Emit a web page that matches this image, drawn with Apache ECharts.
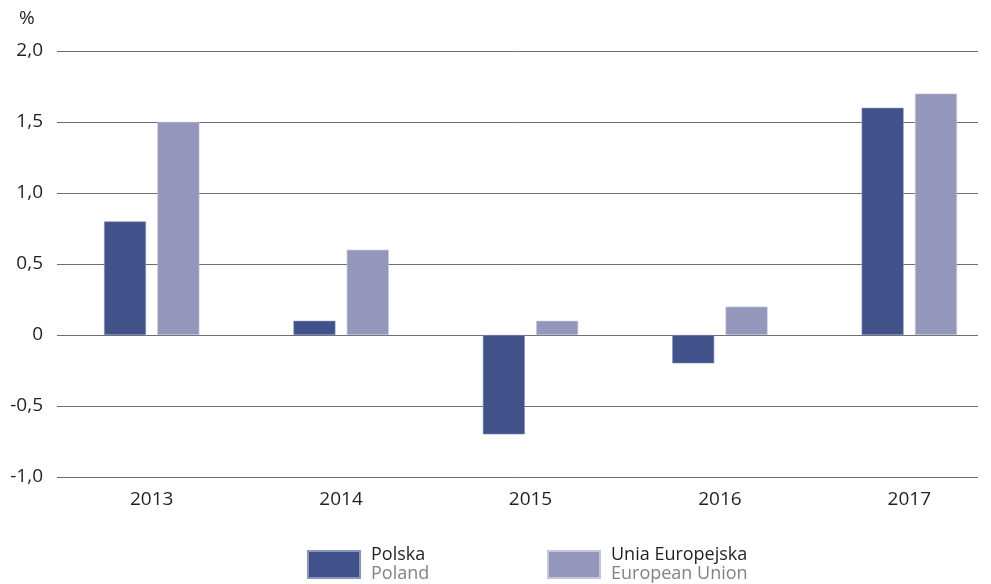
<!DOCTYPE html>
<html>
<head>
<meta charset="utf-8">
<script src="https://cdn.jsdelivr.net/npm/echarts@6/dist/echarts.min.js"></script>
<style>
  html, body { margin: 0; padding: 0; background: #fff; overflow: hidden; }
  #chart { width: 1010px; height: 584px; }
</style>
</head>
<body>
<div id="chart"></div>
<script>
// Annual change, %
const years = ['2013', '2014', '2015', '2016', '2017'];
const polska = [0.8, 0.1, -0.7, -0.2, 1.6];
const uniaEuropejska = [1.5, 0.6, 0.1, 0.2, 1.7];
const seriesNames = ['Polska', 'Unia Europejska'];
const seriesNamesEn = ['Poland', 'European Union'];

const FONT = '"Open Sans", "DejaVu Sans", sans-serif';
const TEXT = '#231f20';
const colPL = '#41518a';
const colEU = '#9496bb';

const chart = echarts.init(document.getElementById('chart'), null, { renderer: 'canvas' });

function legendFor(idx, left) {
  return {
    data: [seriesNames[idx]],
    left: left,
    top: 541,
    padding: 5,
    itemWidth: 52,
    itemHeight: 27,
    icon: 'rect',
    selectedMode: false,
    formatter: name => `{a|${name}}\n{b|${seriesNamesEn[idx]}}`,
    textStyle: {
      fontFamily: FONT,
      rich: {
        a: { fontFamily: FONT, fontSize: 18, color: TEXT, lineHeight: 19, padding: [0, 0, 0, 6] },
        b: { fontFamily: FONT, fontSize: 18, color: '#808285', lineHeight: 19, padding: [0, 0, 0, 6] }
      }
    }
  };
}

const yAxisBase = {
  type: 'value',
  min: -1, max: 2, interval: 0.5,
  axisLine: { show: false },
  axisTick: { show: false }
};

chart.setOption({
  animation: false,
  // grid 0 holds the bars (category bands run a little past the rules);
  // grid 1 carries the value labels and horizontal rules
  grid: [
    { left: 57, right: 6, top: 51, bottom: 107, containLabel: false },
    { left: 57, right: 32, top: 51, bottom: 107, containLabel: false }
  ],
  graphic: [{
    type: 'text', left: 19, top: 9,
    style: { text: '%', fontFamily: FONT, fontSize: 19, fill: TEXT }
  }],
  legend: [legendFor(0, 302), legendFor(1, 542)],
  xAxis: [
    {
      type: 'category', gridIndex: 0,
      data: years,
      position: 'bottom',
      axisLine: { show: false },
      axisTick: { show: false },
      axisLabel: { fontFamily: FONT, fontSize: 19, color: TEXT, margin: 13 }
    },
    { type: 'category', gridIndex: 1, data: years, show: false }
  ],
  yAxis: [
    Object.assign({}, yAxisBase, {
      gridIndex: 0,
      axisLabel: { show: false },
      splitLine: { show: false }
    }),
    Object.assign({}, yAxisBase, {
      gridIndex: 1,
      axisLabel: {
        fontFamily: FONT, fontSize: 19, color: TEXT, margin: 14,
        formatter: v => v === 0 ? '0' : v.toFixed(1).replace('.', ',')
      },
      splitLine: { lineStyle: { color: '#6d6e71', width: 1 } }
    })
  ],
  series: [
    {
      name: seriesNames[0], type: 'bar', data: polska,
      xAxisIndex: 0, yAxisIndex: 0,
      barWidth: 42, barGap: '27%', z: 3,
      itemStyle: { color: colPL, borderColor: '#8a94c0', borderWidth: 0.6 }
    },
    {
      name: seriesNames[1], type: 'bar', data: uniaEuropejska,
      xAxisIndex: 0, yAxisIndex: 0,
      barWidth: 42, barGap: '27%', z: 3,
      itemStyle: { color: colEU, borderColor: '#c4c6de', borderWidth: 0.6 }
    }
  ]
});
</script>
</body>
</html>
